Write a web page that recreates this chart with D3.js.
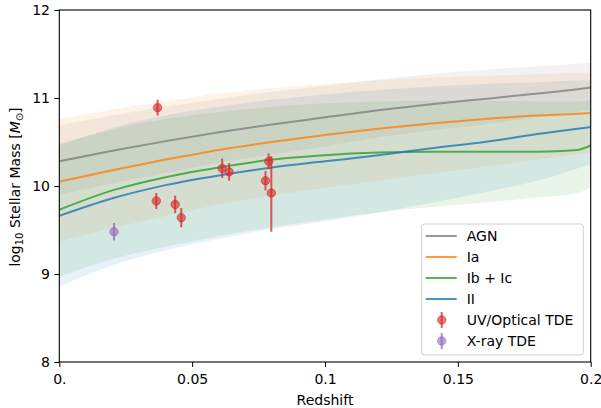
<!DOCTYPE html>
<html>
<head>
<meta charset="utf-8">
<script src="https://cdn.jsdelivr.net/npm/d3@7"></script>
<style>
  body { margin: 0; background: #fff; }
  svg { font-family: "DejaVu Sans", sans-serif; }
</style>
</head>
<body>
<div id="chart"></div>
<script>
"use strict";

// redshift grid the model curves are read at
var zGrid = [0, 0.02, 0.04, 0.06, 0.08, 0.10, 0.12, 0.14, 0.16, 0.18, 0.195, 0.2];

// host stellar mass (log10) per model: median and shaded range
var agnMid = [10.28, 10.40, 10.51, 10.61, 10.70, 10.78, 10.86, 10.93, 10.99, 11.05, 11.10, 11.12];
var agnLo  = [9.90, 10.03, 10.15, 10.26, 10.36, 10.45, 10.55, 10.63, 10.70, 10.78, 10.84, 10.87];
var agnHi  = [10.69, 10.80, 10.90, 10.99, 11.07, 11.14, 11.21, 11.27, 11.32, 11.36, 11.39, 11.40];

var iaMid = [10.05, 10.18, 10.30, 10.41, 10.50, 10.58, 10.65, 10.71, 10.76, 10.80, 10.82, 10.83];
var iaLo  = [9.37, 9.52, 9.66, 9.79, 9.89, 9.98, 10.06, 10.14, 10.22, 10.30, 10.36, 10.38];
var iaHi  = [10.76, 10.87, 10.96, 11.05, 11.11, 11.16, 11.20, 11.23, 11.25, 11.27, 11.28, 11.28];

var ibcMid = [9.73, 9.95, 10.10, 10.21, 10.30, 10.35, 10.38, 10.39, 10.39, 10.39, 10.41, 10.46];
var ibcLo  = [8.97, 9.17, 9.31, 9.43, 9.53, 9.62, 9.70, 9.76, 9.81, 9.87, 9.92, 9.99];
var ibcHi  = [10.48, 10.64, 10.76, 10.84, 10.90, 10.94, 10.96, 10.97, 10.97, 10.96, 10.96, 10.98];

var iiMid = [9.66, 9.86, 10.01, 10.12, 10.21, 10.28, 10.35, 10.43, 10.50, 10.59, 10.65, 10.67];
var iiLo  = [8.86, 9.10, 9.27, 9.40, 9.51, 9.60, 9.70, 9.81, 9.93, 10.06, 10.20, 10.25];
var iiHi  = [10.46, 10.66, 10.80, 10.90, 10.98, 11.04, 11.09, 11.13, 11.16, 11.18, 11.20, 11.20];

// TDE hosts
var uvZ      = [0.0370, 0.0365, 0.0436, 0.0459, 0.0613, 0.0639, 0.0788, 0.0776, 0.0798];
var uvMass   = [10.89, 9.83, 9.79, 9.64, 10.20, 10.16, 10.28, 10.06, 9.92];
var uvErrLo  = [0.09, 0.09, 0.10, 0.11, 0.11, 0.10, 0.09, 0.11, 0.44];
var uvErrHi  = [0.09, 0.09, 0.10, 0.11, 0.11, 0.10, 0.09, 0.11, 0.42];

var xrayZ     = [0.0206];
var xrayMass  = [9.48];
var xrayErrLo = [0.10];
var xrayErrHi = [0.10];

var xTicks = [0, 0.05, 0.1, 0.15, 0.2];
var xTickLabels = ["0.", "0.05", "0.1", "0.15", "0.2"];
var yTicks = [8, 9, 10, 11, 12];

var width = 601;
var height = 408;

var models = [
  {name: "AGN",     color: "#7f7f7f", mid: agnMid, lo: agnLo, hi: agnHi},
  {name: "Ia",      color: "#ff7f0e", mid: iaMid,  lo: iaLo,  hi: iaHi},
  {name: "Ib + Ic", color: "#2ca02c", mid: ibcMid, lo: ibcLo, hi: ibcHi},
  {name: "II",      color: "#1f77b4", mid: iiMid,  lo: iiLo,  hi: iiHi}
];

var tdeSets = [
  {name: "UV/Optical TDE", color: "#d62728", z: uvZ, m: uvMass, lo: uvErrLo, hi: uvErrHi},
  {name: "X-ray TDE",      color: "#9467bd", z: xrayZ, m: xrayMass, lo: xrayErrLo, hi: xrayErrHi}
];

var chart = function() {
  var x = d3.scaleLinear().domain([0, 0.2]).range([59.3, 590.7]);
  var y = d3.scaleLinear().domain([8, 12]).range([362, 10]);

  const svg = d3.create("svg")
    .attr("width", width)
    .attr("height", height)
    .attr("viewBox", [0, 0, width, height]);

  svg.append("defs").append("clipPath")
    .attr("id", "plot-clip")
    .append("rect")
    .attr("x", x(0)).attr("y", y(12))
    .attr("width", x(0.2) - x(0)).attr("height", y(8) - y(12));

  var plot = svg.append("g").attr("clip-path", "url(#plot-clip)");

  var area = d3.area()
    .x(function(d) { return x(d.z); })
    .y0(function(d) { return y(d.lo); })
    .y1(function(d) { return y(d.hi); })
    .curve(d3.curveMonotoneX);

  var line = d3.line()
    .x(function(d) { return x(d.z); })
    .y(function(d) { return y(d.m); })
    .curve(d3.curveMonotoneX);

  function rows(m) {
    return zGrid.map(function(z, i) {
      return {z: z, m: m.mid[i], lo: m.lo[i], hi: m.hi[i]};
    });
  }

  // shaded ranges first, then the median curves
  plot.append("g")
    .selectAll("path")
    .data(models)
    .enter().append("path")
    .attr("d", function(m) { return area(rows(m)); })
    .attr("fill", function(m) { return m.color; })
    .attr("fill-opacity", 0.1);

  plot.append("g")
    .selectAll("path")
    .data(models)
    .enter().append("path")
    .attr("d", function(m) { return line(rows(m)); })
    .attr("fill", "none")
    .attr("stroke", function(m) { return m.color; })
    .attr("stroke-opacity", 0.8)
    .attr("stroke-width", 2);

  // error bar points
  tdeSets.forEach(function(s) {
    var pts = s.z.map(function(z, i) {
      return {z: z, m: s.m[i], lo: s.lo[i], hi: s.hi[i]};
    });
    var g = plot.append("g");
    g.selectAll("line")
      .data(pts)
      .enter().append("line")
      .attr("x1", function(d) { return x(d.z); })
      .attr("x2", function(d) { return x(d.z); })
      .attr("y1", function(d) { return y(d.m - d.lo); })
      .attr("y2", function(d) { return y(d.m + d.hi); })
      .attr("stroke", s.color)
      .attr("stroke-opacity", 0.75)
      .attr("stroke-width", 2);
    g.selectAll("circle")
      .data(pts)
      .enter().append("circle")
      .attr("cx", function(d) { return x(d.z); })
      .attr("cy", function(d) { return y(d.m); })
      .attr("r", 4.2)
      .attr("fill", s.color)
      .attr("fill-opacity", 0.6)
      .attr("stroke", s.color)
      .attr("stroke-opacity", 0.6)
      .attr("stroke-width", 1);
  });

  // axes
  var xAxis = svg.append("g")
    .attr("transform", "translate(0," + y(8) + ")")
    .call(d3.axisBottom(x)
      .tickValues(xTicks)
      .tickFormat(function(d, i) { return xTickLabels[i]; })
      .tickSize(5)
      .tickPadding(7));

  var yAxis = svg.append("g")
    .attr("transform", "translate(" + x(0) + ",0)")
    .call(d3.axisLeft(y)
      .tickValues(yTicks)
      .tickFormat(d3.format("d"))
      .tickSize(5)
      .tickPadding(4.3));

  [xAxis, yAxis].forEach(function(a) {
    a.select(".domain").remove();
    a.selectAll("text")
      .attr("font-family", "DejaVu Sans, sans-serif")
      .attr("font-size", 14)
      .attr("fill", "#000");
    a.selectAll("line").attr("stroke", "#000").attr("stroke-width", 1);
  });

  svg.append("rect")
    .attr("x", x(0)).attr("y", y(12))
    .attr("width", x(0.2) - x(0)).attr("height", y(8) - y(12))
    .attr("fill", "none")
    .attr("stroke", "#000")
    .attr("stroke-width", 1.1);

  svg.append("text")
    .attr("x", (x(0) + x(0.2)) / 2)
    .attr("y", 405)
    .attr("text-anchor", "middle")
    .attr("font-size", 14)
    .text("Redshift");

  var ylab = svg.append("text")
    .attr("transform", "translate(20," + 187 + ") rotate(-90)")
    .attr("text-anchor", "middle")
    .attr("font-size", 14);
  ylab.append("tspan").text("log");
  ylab.append("tspan").attr("font-size", 10).attr("dy", 3).text("10");
  ylab.append("tspan").attr("dy", -3).text(" Stellar Mass [");
  ylab.append("tspan").attr("font-style", "italic").text("M");
  ylab.append("tspan").attr("font-size", 10).attr("dy", 3).text("\u2299");
  ylab.append("tspan").attr("dy", -3).text("]");

  // legend
  var lg = svg.append("g").attr("transform", "translate(421.7,224)");
  lg.append("rect")
    .attr("width", 161.6).attr("height", 131)
    .attr("rx", 3)
    .attr("fill", "#fff").attr("fill-opacity", 0.8)
    .attr("stroke", "#d0d0d0").attr("stroke-width", 1);

  var rowH = 21;
  var lgItems = lg.selectAll("g.item")
    .data(models.concat(tdeSets))
    .enter().append("g")
    .attr("class", "item")
    .attr("transform", function(d, i) { return "translate(0," + (12 + i * rowH) + ")"; });

  lgItems.filter(function(d, i) { return i < models.length; })
    .append("line")
    .attr("x1", 4).attr("x2", 35)
    .attr("stroke", function(d) { return d.color; })
    .attr("stroke-opacity", 0.8)
    .attr("stroke-width", 2);

  var mk = lgItems.filter(function(d, i) { return i >= models.length; });
  mk.append("line")
    .attr("x1", 20).attr("x2", 20).attr("y1", -8).attr("y2", 8)
    .attr("stroke", function(d) { return d.color; })
    .attr("stroke-opacity", 0.75)
    .attr("stroke-width", 2);
  mk.append("circle")
    .attr("cx", 20).attr("r", 4.2)
    .attr("fill", function(d) { return d.color; })
    .attr("fill-opacity", 0.6)
    .attr("stroke", function(d) { return d.color; })
    .attr("stroke-opacity", 0.6);

  lgItems.append("text")
    .attr("x", 45)
    .attr("dy", "0.36em")
    .attr("font-size", 14)
    .text(function(d) { return d.name; });

  return svg.node();
};

window.addEventListener("load", function() {
  document.querySelector("#chart").appendChild(chart());
});
</script>
</body>
</html>
